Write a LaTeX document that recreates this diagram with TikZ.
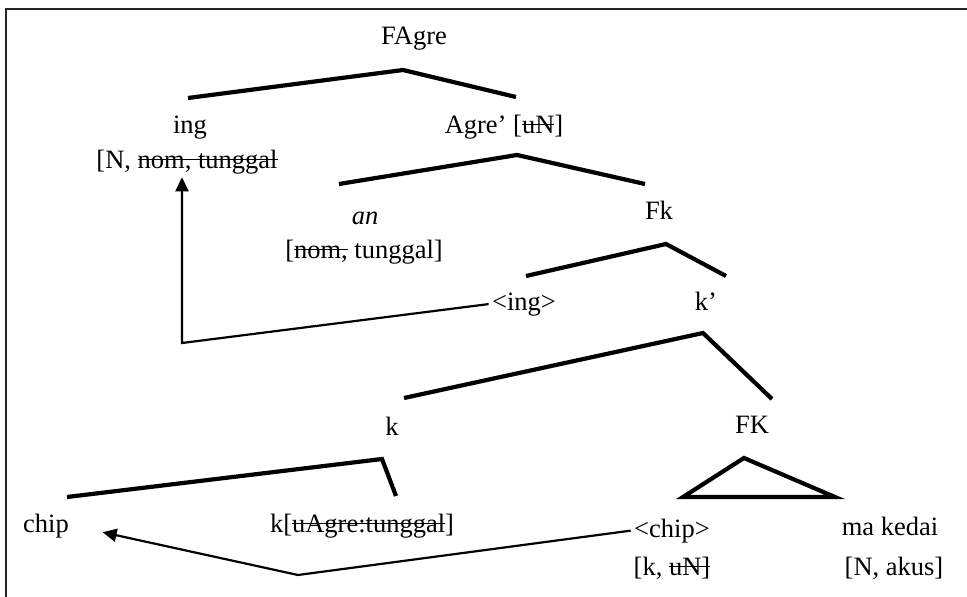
\documentclass[tikz,border=0pt]{standalone}
\usepackage{fontspec}
\setmainfont{Liberation Serif}
\usetikzlibrary{arrows.meta}

\newcommand{\strikeout}[1]{\setbox0=\hbox{#1}\rlap{\usebox0}\rule[0.3em]{\wd0}{1.2pt}}

\tikzset{
    lbl/.style={anchor=base},
    branch/.style={line width=4.2pt},
    move/.style={line width=2.2pt,-{Triangle[length=14pt,width=13pt]}},
}

\begin{document}
\begin{tikzpicture}[x=1pt,y=-1pt,font=\fontsize{26.5}{32}\selectfont]
    \useasboundingbox (0,0) rectangle (967,597);

    %%% Frame %%%
    \draw[line width=2.4pt,black!85] (6,597) -- (6,9) -- (967,9);

    %%% Labels %%%
    \node[lbl] (fagre) at (414,44) {FAgre};
    \node[lbl] (ing) at (190,133) {ing};
    \node[lbl] (ingfeat) at (187,168) {[N, \strikeout{nom, tunggal}};
    \node[lbl] (agrebar) at (504,133) {Agre’ [\strikeout{uN}]};
    \node[lbl] (an) at (365,224) {\textit{an}};
    \node[lbl] (anfeat) at (364,258) {[\strikeout{nom,} tunggal]};
    \node[lbl] (fk) at (659,219) {Fk};
    \node[lbl] (ingtrace) at (524,310) {<ing>};
    \node[lbl] (kbar) at (706,310) {k’};
    \node[lbl] (k) at (392,435) {k};
    \node[lbl] (fkk) at (752,433) {FK};
    \node[lbl] (chip) at (46,532) {chip};
    \node[lbl] (khead) at (362,532) {k[\strikeout{uAgre:tunggal}]};
    \node[lbl] (chiptrace) at (672,537) {<chip>};
    \node[lbl] (chipfeat) at (672,575) {[k, \strikeout{uN]}};
    \node[lbl] (makedai) at (890,535) {ma kedai};
    \node[lbl] (makedaifeat) at (894,575) {[N, akus]};

    %%% Branches %%%
    \coordinate (fagre-top) at (403,70);
    \coordinate (fagre-l) at (188,98);
    \coordinate (fagre-r) at (516,97);
    \coordinate (agre-top) at (517,155);
    \coordinate (agre-l) at (339,184);
    \coordinate (agre-r) at (645,184);
    \coordinate (fk-top) at (666,244);
    \coordinate (fk-l) at (526,276);
    \coordinate (fk-r) at (726,276);
    \coordinate (kbar-top) at (703,333);
    \coordinate (kbar-l) at (404,398);
    \coordinate (kbar-r) at (772,399);
    \coordinate (k-top) at (382,459);
    \coordinate (k-l) at (67,497);
    \coordinate (k-r) at (396,496);
    \coordinate (tri-top) at (744,458);
    \coordinate (tri-l) at (683,497);
    \coordinate (tri-r) at (835,497);

    \draw[branch] (fagre-l) -- (fagre-top) -- (fagre-r);
    \draw[branch] (agre-l) -- (agre-top) -- (agre-r);
    \draw[branch] (fk-l) -- (fk-top) -- (fk-r);
    \draw[branch] (kbar-l) -- (kbar-top) -- (kbar-r);
    \draw[branch] (k-l) -- (k-top) -- (k-r);
    \draw[branch] (tri-l) -- (tri-top) -- (tri-r) -- cycle;

    %%% Movement %%%
    \coordinate (ing-bend) at (182,343);
    \coordinate (chip-bend) at (298,575);
    \draw[move] (ingtrace.west) -- (ing-bend) -- (ing-bend |- ingfeat.south);
    \draw[move,shorten >=31pt] (chiptrace.west) -- (chip-bend) -- (chip.east);

\end{tikzpicture}
\end{document}
